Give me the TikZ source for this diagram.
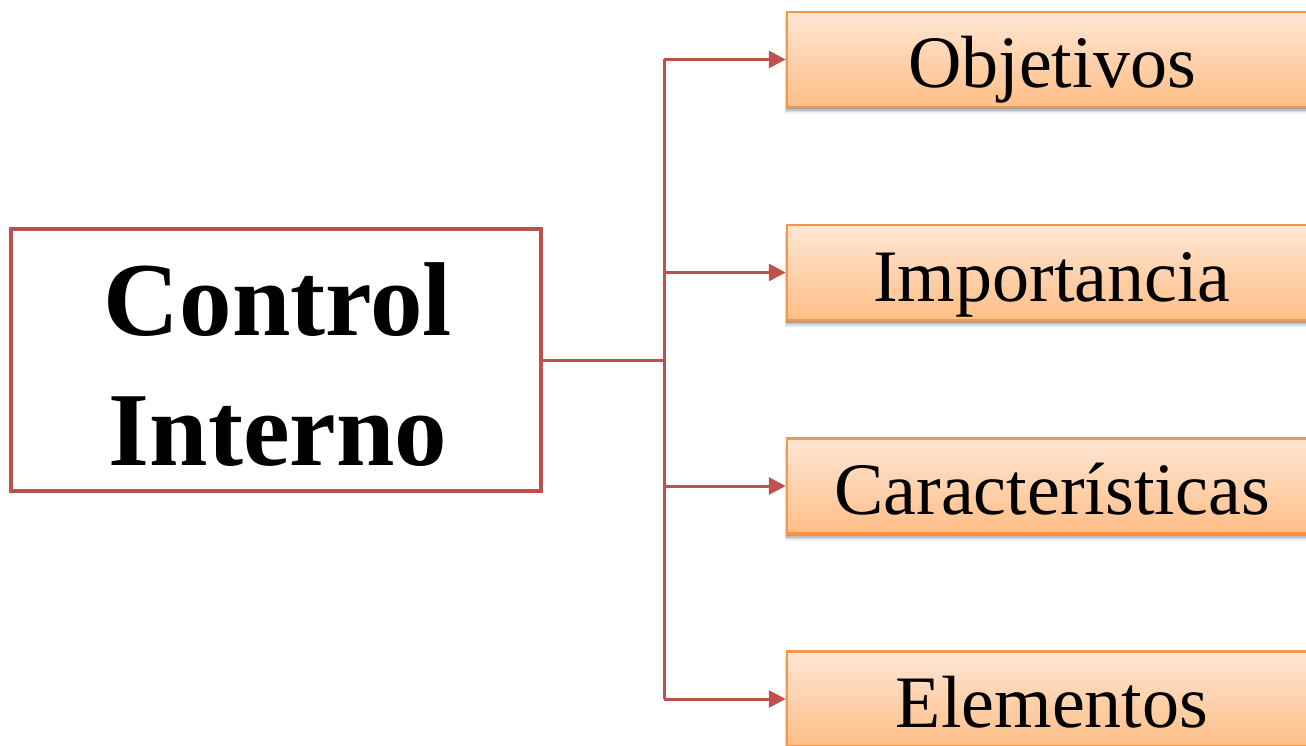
\documentclass[tikz,border=0pt]{standalone}
\usepackage{fontspec}
\setmainfont{Liberation Serif}
\usetikzlibrary{arrows.meta,shadows}
\definecolor{redline}{HTML}{C0504D}
\definecolor{orangeline}{HTML}{F79646}
\definecolor{peachtop}{HTML}{FFE6D4}
\definecolor{peachbot}{HTML}{FFBE86}
\tikzset{
  mainbox/.style={draw=redline, line width=4pt, fill=white, minimum width=530pt, minimum height=262pt, inner sep=0pt},
  itembox/.style={draw=orangeline, line width=2.5pt, top color=peachtop, bottom color=peachbot,
    minimum width=530pt, minimum height=95pt, inner sep=0pt,
    drop shadow={shadow xshift=-2pt, shadow yshift=-7pt, opacity=0.06, fill=black},
    drop shadow={shadow xshift=-2pt, shadow yshift=-5.5pt, opacity=0.09, fill=black},
    drop shadow={shadow xshift=-1.5pt, shadow yshift=-4pt, opacity=0.12, fill=black},
    drop shadow={shadow xshift=-1pt, shadow yshift=-2.5pt, opacity=0.15, fill=black}},
  itemtext/.style={font=\fontsize{74}{80}\selectfont, inner sep=0pt},
  maintext/.style={font=\fontsize{105}{120}\selectfont\bfseries, inner sep=0pt},
  conn/.style={draw=redline, line width=3pt},
  arr/.style={conn, -{Triangle[length=17pt,width=17pt]}}
}
\begin{document}
\begin{tikzpicture}[x=1pt,y=-1pt]
\clip (0,0) rectangle (1306,746);
\fill[white] (0,0) rectangle (1306,746);
\node[mainbox] (main) at (276,360) {};
\node[maintext, anchor=base] (t1) at (278,335) {Control};
\node[maintext, anchor=base] (t2) at (278,465) {Interno};
\node[itembox] (b1) at (1052,59.5) {};
\node[itembox] (b2) at (1052,272.5) {};
\node[itembox] (b3) at (1052,486) {};
\node[itembox] (b4) at (1052,699) {};
\node[itemtext, anchor=base] (l1) at (1052,88) {Objetivos};
\node[itemtext, anchor=base] (l2) at (1052,301) {Importancia};
\node[itemtext, anchor=base] (l3) at (1052,514) {Características};
\node[itemtext, anchor=base] (l4) at (1052,727) {Elementos};
\coordinate (j) at (664,360);
\coordinate (j1) at (664,59.5);
\coordinate (j2) at (664,272.5);
\coordinate (j3) at (664,486);
\coordinate (j4) at (664,699);
\draw[conn] (main.east) -- (j);
\draw[conn] (j1) -- (j4);
\draw[arr] (j1) -- (b1.west);
\draw[arr] (j2) -- (b2.west);
\draw[arr] (j3) -- (b3.west);
\draw[arr] (j4) -- (b4.west);
\end{tikzpicture}
\end{document}
